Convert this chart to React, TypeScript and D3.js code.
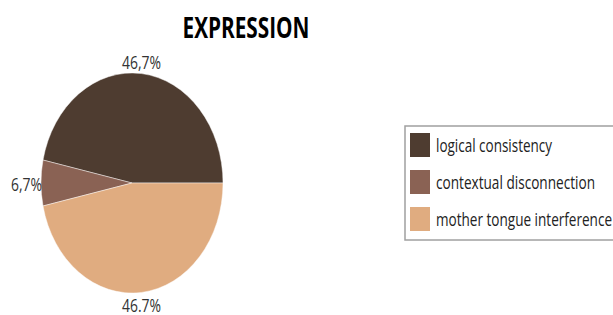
import React from "react";
import * as d3 from "d3";

const categories = ["logical consistency", "contextual disconnection", "mother tongue interference"];
const shares = [46.7, 6.7, 46.7];
const pctLabels = ["46,7%", "6,7%", "46.7%"];
const colors = ["#4E3C30", "#8A6254", "#E0AC80"];
const legendWidths = [116, 159, 176];
const pctWidths = [39, 31, 39];
const title = "EXPRESSION";

export default function App() {
  const width = 613;
  const height = 315;
  const cx = 132;
  const cy = 183;
  const rx = 91;
  const ry = 110;

  // Pie starts at 3 o'clock and runs counter-clockwise
  const pie = d3
    .pie<number>()
    .sort(null)
    .value((d) => d)
    .startAngle(Math.PI / 2)
    .endAngle(Math.PI / 2 - 2 * Math.PI);
  const arcs = pie(shares);
  const arc = d3.arc<d3.PieArcDatum<number>>().innerRadius(0).outerRadius(rx);

  const labelPos = (a: d3.PieArcDatum<number>) => {
    const mid = (a.startAngle + a.endAngle) / 2;
    const sx = Math.sin(mid);
    const sy = -Math.cos(mid);
    if (Math.abs(sx) > 0.7) {
      return { x: cx + (rx - 1) * sx, y: cy + ry * sy + 8, anchor: "end" };
    }
    const x = cx + rx * sx;
    const y = cy + (ry + 5) * sy;
    return { x, y: sy < 0 ? y : y + 15, anchor: "middle" };
  };

  const legendX = 405;
  const legendY = 126;
  const rowStep = 37;

  return (
    <svg
      width={width}
      height={height}
      style={{ position: "absolute", left: 0, top: 0, background: "#fff" }}
      fontFamily="'Open Sans', sans-serif"
    >
      <text
        x={246}
        y={38}
        textAnchor="middle"
        fontSize={28}
        fontWeight="bold"
        textLength={127}
        lengthAdjust="spacingAndGlyphs"
        fill="#000"
      >
        {title}
      </text>

      <g transform={`translate(${cx},${cy}) scale(1,${ry / rx})`}>
        {arcs.map((a, i) => (
          <path key={i} d={arc(a) ?? ""} fill={colors[i]} stroke="#fff" strokeWidth={0.4} />
        ))}
      </g>

      {arcs.map((a, i) => {
        const p = labelPos(a);
        return (
          <text
            key={i}
            x={p.x}
            y={p.y}
            textAnchor={p.anchor}
            fontSize={18}
            fill="#333"
            textLength={pctWidths[i]}
            lengthAdjust="spacingAndGlyphs"
          >
            {pctLabels[i]}
          </text>
        );
      })}

      <rect
        x={legendX}
        y={legendY}
        width={215}
        height={114}
        fill="#fff"
        stroke="#a0a0a0"
        strokeWidth={1.5}
      />
      {categories.map((c, i) => (
        <g key={c} transform={`translate(${legendX + 5},${legendY + 7 + i * rowStep})`}>
          <rect width={20} height={24} fill={colors[i]} />
          <text
            x={26}
            y={19}
            fontSize={17.5}
            fill="#222"
            textLength={legendWidths[i]}
            lengthAdjust="spacingAndGlyphs"
          >
            {c}
          </text>
        </g>
      ))}
    </svg>
  );
}
